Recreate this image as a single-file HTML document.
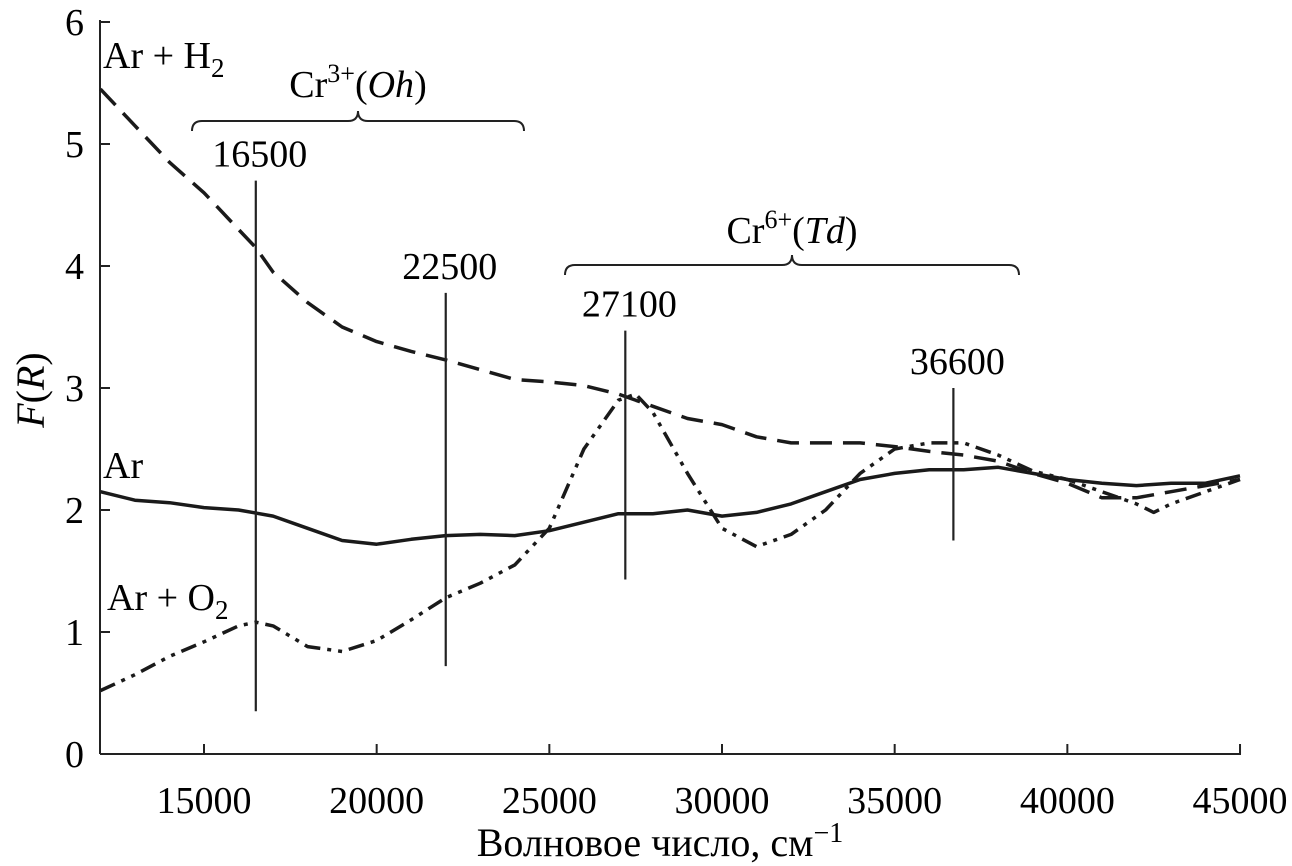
<!DOCTYPE html>
<html><head><meta charset="utf-8">
<style>
html,body{margin:0;padding:0;background:#fff;}
svg{display:block;font-family:"Liberation Serif",serif;}
</style></head>
<body>
<svg id="chart" width="1292" height="866" viewBox="0 0 1292 866" xmlns="http://www.w3.org/2000/svg">
<g id="axes"></g>
<g id="series"></g>
<g id="annot"></g>
<text x="0" y="0" font-size="40" text-anchor="middle" transform="translate(44,390) rotate(-90)"><tspan font-style="italic">F</tspan>(<tspan font-style="italic">R</tspan>)</text>
<text x="660" y="856" font-size="40" text-anchor="middle">Волновое число, см<tspan dy="-14" font-size="28">−1</tspan></text>
<text x="103" y="68" font-size="38">Ar + H<tspan dy="9" font-size="27">2</tspan></text>
<text x="103" y="478" font-size="38">Ar</text>
<text x="107" y="610" font-size="38">Ar + O<tspan dy="9" font-size="27">2</tspan></text>
<text x="358" y="97" font-size="38" text-anchor="middle">Cr<tspan dy="-15" font-size="26">3+</tspan><tspan dy="15">(</tspan><tspan font-style="italic">Oh</tspan>)</text>
<text x="792" y="243" font-size="38" text-anchor="middle">Cr<tspan dy="-15" font-size="26">6+</tspan><tspan dy="15">(</tspan><tspan font-style="italic">Td</tspan>)</text>
</svg>
<script>
const xTicks=[15000,20000,25000,30000,35000,40000,45000];
const yTicks=[0,1,2,3,4,5,6];
const waveH2=[12000,13000,14000,15000,16000,16500,17000,18000,19000,20000,21000,22000,23000,24000,25000,26000,27000,28000,29000,30000,31000,32000,33000,34000,35000,36000,37000,38000,39000,40000,41000,42000,43000,44000,45000];
const valH2=[5.45,5.15,4.85,4.6,4.3,4.15,3.95,3.7,3.5,3.38,3.3,3.23,3.15,3.07,3.05,3.02,2.95,2.85,2.75,2.7,2.6,2.55,2.55,2.55,2.52,2.48,2.45,2.4,2.3,2.22,2.1,2.1,2.15,2.2,2.25];
const waveAr=[12000,13000,14000,15000,16000,17000,18000,19000,20000,21000,22000,23000,24000,25000,26000,27000,28000,29000,30000,31000,32000,33000,34000,35000,36000,37000,38000,39000,40000,41000,42000,43000,44000,45000];
const valAr=[2.15,2.08,2.06,2.02,2.0,1.95,1.85,1.75,1.72,1.76,1.79,1.8,1.79,1.83,1.9,1.97,1.97,2.0,1.95,1.98,2.05,2.15,2.25,2.3,2.33,2.33,2.35,2.3,2.25,2.22,2.2,2.22,2.22,2.28];
const waveO2=[12000,13000,14000,15000,16000,16500,17000,18000,19000,20000,21000,22000,23000,24000,25000,26000,27000,27500,28000,29000,30000,31000,32000,33000,34000,35000,36000,37000,38000,39000,40000,41000,42000,42500,43000,44000,45000];
const valO2=[0.52,0.65,0.8,0.92,1.05,1.08,1.05,0.88,0.84,0.93,1.1,1.28,1.4,1.55,1.85,2.5,2.9,2.95,2.8,2.3,1.85,1.7,1.8,2.0,2.3,2.5,2.55,2.55,2.45,2.32,2.25,2.15,2.05,1.98,2.05,2.15,2.25];
const peakLabels=["16500","22500","27100","36600"];
const peakPos=[16500,22000,27200,36700];
const peakLow=[0.35,0.72,1.43,1.75];
const peakHigh=[4.7,3.78,3.47,3.0];
const NS="http://www.w3.org/2000/svg";
const X=v=>204+(v-15000)/5000*172.67;
const Y=v=>754-v*122;
function mk(tag,attrs,parent,txt){const e=document.createElementNS(NS,tag);for(const k in attrs)e.setAttribute(k,attrs[k]);if(txt!==undefined)e.textContent=txt;parent.appendChild(e);return e;}
const axes=document.getElementById('axes');
let a=mk('line',{x1:100,y1:754,x2:1241,y2:754,stroke:'#222','stroke-width':2},axes);


a=mk('line',{x1:100,y1:20,x2:100,y2:754,stroke:'#222','stroke-width':2},axes);


xTicks.forEach(t=>{
 const l=mk('line',{x1:X(t),y1:754,x2:X(t),y2:744,stroke:'#222','stroke-width':2},axes);
 
 
 const tx=mk('text',{x:X(t),y:813,'font-size':38,'text-anchor':'middle'},axes,String(t));
 
 
});
yTicks.forEach(t=>{
 const l=mk('line',{x1:100,y1:Y(t),x2:110,y2:Y(t),stroke:'#222','stroke-width':2},axes);
 
 
 const tx=mk('text',{x:84,y:Y(t)+13,'font-size':38,'text-anchor':'end'},axes,String(t));
 
 
});
const ser=document.getElementById('series');
function line(xs,ys,dash,name){
 const d=xs.map((x,i)=>(i?'L':'M')+X(x).toFixed(1)+','+Y(ys[i]).toFixed(1)).join(' ');
 const p=mk('path',{d:d,fill:'none',stroke:'#1a1a1a','stroke-width':3.5,'stroke-dasharray':dash,'stroke-linejoin':'round'},ser);
 
 
}
line(waveH2,valH2,'22 11','series-ar-h2');
line(waveAr,valAr,'none','series-ar');
line(waveO2,valO2,'16 7 4 7 4 7','series-ar-o2');
const an=document.getElementById('annot');
peakPos.forEach((p,i)=>{
 const l=mk('line',{x1:X(p),y1:Y(peakLow[i]),x2:X(p),y2:Y(peakHigh[i]),stroke:'#222','stroke-width':2.2},an);
 
 
 const t=mk('text',{x:X(p)+4,y:Y(peakHigh[i])-14,'font-size':38,'text-anchor':'middle'},an,peakLabels[i]);
 
 
});
function brace(x1,x2,y,name){
 const m=(x1+x2)/2,h=10;
 const d=`M${x1},${y+h} Q${x1},${y} ${x1+10},${y} L${m-10},${y} Q${m},${y} ${m},${y-h} Q${m},${y} ${m+10},${y} L${x2-10},${y} Q${x2},${y} ${x2},${y+h}`;
 const p=mk('path',{d:d,fill:'none',stroke:'#222','stroke-width':2},an);
 
 
}
brace(192,524,121,'brace-cr3');
brace(565,1019,265,'brace-cr6');
</script>
</body></html>
